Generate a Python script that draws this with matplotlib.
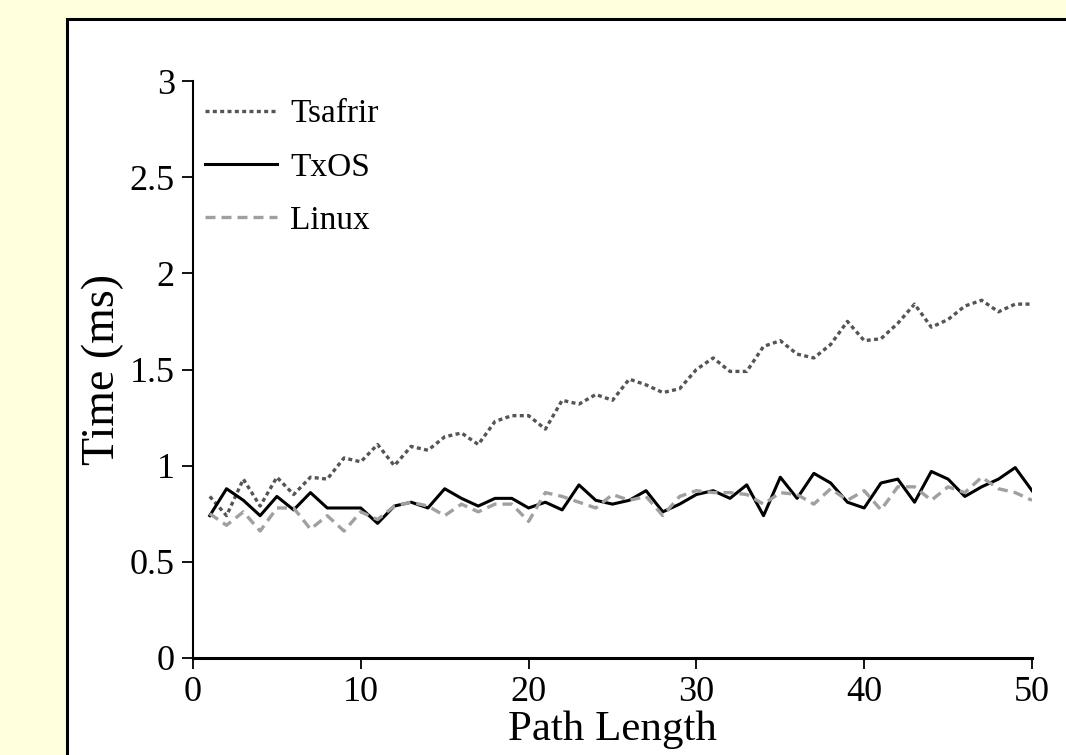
import matplotlib
matplotlib.use("Agg")
import matplotlib.pyplot as plt
from matplotlib.patches import Rectangle

path_length = list(range(1, 51))

tsafrir = [0.84, 0.74, 0.93, 0.79, 0.94, 0.85, 0.94, 0.93, 1.04, 1.02,
           1.11, 1.00, 1.10, 1.08, 1.15, 1.17, 1.11, 1.23, 1.26, 1.26,
           1.19, 1.34, 1.32, 1.37, 1.34, 1.45, 1.42, 1.38, 1.40, 1.50,
           1.56, 1.49, 1.49, 1.62, 1.65, 1.58, 1.56, 1.63, 1.75, 1.65,
           1.66, 1.74, 1.84, 1.72, 1.76, 1.83, 1.86, 1.80, 1.84, 1.84]

txos = [0.74, 0.88, 0.82, 0.74, 0.84, 0.77, 0.86, 0.78, 0.78, 0.78,
        0.70, 0.79, 0.81, 0.78, 0.88, 0.83, 0.79, 0.83, 0.83, 0.78,
        0.81, 0.77, 0.90, 0.82, 0.80, 0.82, 0.87, 0.76, 0.80, 0.85,
        0.87, 0.83, 0.90, 0.74, 0.94, 0.83, 0.96, 0.91, 0.81, 0.78,
        0.91, 0.93, 0.81, 0.97, 0.93, 0.84, 0.89, 0.93, 0.99, 0.87]

linux = [0.75, 0.69, 0.76, 0.66, 0.78, 0.78, 0.67, 0.74, 0.66, 0.76,
         0.72, 0.79, 0.81, 0.79, 0.74, 0.80, 0.76, 0.80, 0.80, 0.71,
         0.86, 0.84, 0.81, 0.78, 0.85, 0.82, 0.84, 0.74, 0.84, 0.87,
         0.86, 0.86, 0.85, 0.80, 0.86, 0.85, 0.80, 0.88, 0.82, 0.87,
         0.77, 0.89, 0.89, 0.82, 0.89, 0.86, 0.94, 0.88, 0.86, 0.82]

x_ticks = [0, 10, 20, 30, 40, 50]
y_ticks = [0, 0.5, 1, 1.5, 2, 2.5, 3]
y_tick_labels = ["0", "0.5", "1", "1.5", "2", "2.5", "3"]

plt.rcParams['font.family'] = ['Liberation Serif', 'DejaVu Serif']

W, H = 1066, 755
fig = plt.figure(figsize=(W / 100, H / 100), dpi=100)
fig.patch.set_facecolor('#FFFFDD')

# white panel with black border, running off the right and bottom edges
panel = Rectangle((67 / W, -0.05), 1.05, 1 - 19 / H + 0.05,
                  transform=fig.transFigure, facecolor='white',
                  edgecolor='black', linewidth=2.2, zorder=-10)
fig.patches.append(panel)

ax = fig.add_axes([193 / W, 1 - 658 / H, (1032 - 193) / W, (658 - 81) / H])
ax.set_zorder(5)
ax.set_facecolor('none')

ax.plot(path_length, tsafrir, color='#555555', linestyle=(0, (1.2, 1.0)),
        linewidth=2.4, label='Tsafrir')
ax.plot(path_length, txos, color='black', linestyle='-',
        linewidth=2.2, label='TxOS')
ax.plot(path_length, linux, color='#A0A0A0', linestyle=(0, (3.0, 1.8)),
        linewidth=2.4, label='Linux')

ax.set_xlim(0, 50)
ax.set_ylim(0, 3)
ax.set_xticks(x_ticks)
ax.set_yticks(y_ticks)
ax.set_yticklabels(y_tick_labels)

for s in ['top', 'right']:
    ax.spines[s].set_visible(False)
ax.spines['left'].set_linewidth(1.5)
ax.spines['bottom'].set_linewidth(2.2)
ax.tick_params(axis='both', direction='out', length=8, width=1.3,
               labelsize=26, colors='black')
ax.tick_params(axis='x', pad=5)
ax.tick_params(axis='y', pad=5)

ax.set_xlabel('Path Length', fontsize=31, labelpad=1)
ax.set_ylabel('Time (ms)', fontsize=33, labelpad=4)

leg = ax.legend(loc='upper left', bbox_to_anchor=(0.0143, 0.969),
                frameon=False, fontsize=24, handlelength=2.16,
                handletextpad=0.4, labelspacing=0.68, borderaxespad=0,
                borderpad=0)

fig.savefig('out.png', dpi=100, facecolor=fig.get_facecolor())
